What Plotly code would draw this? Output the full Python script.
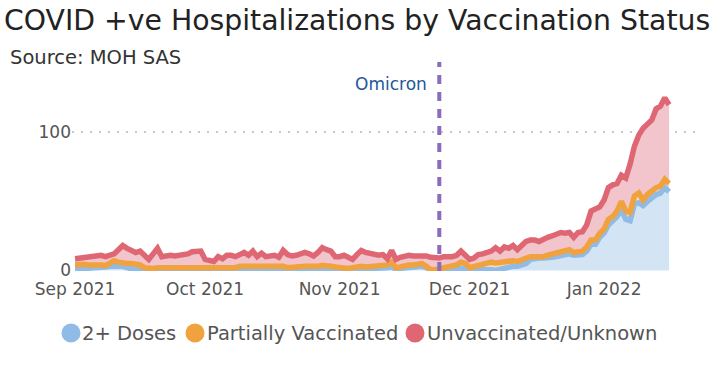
import pandas as pd
import plotly.graph_objects as go

# ---------------- data ----------------
dates = pd.date_range("2021-09-01", "2022-01-16", freq="D")

doses2 = [1, 1, 1.5, 1.5, 2, 2, 2.5, 2.5, 3, 3, 3, 3, 2, 1, 0.5,
          0.5, 0.5, 0.5, 0.5, 0.5, 0.5, 0.5, 0.5, 0.5, 0.5, 0.5, 0.5, 0.5, 0.5, 0.5, 0.5, 0.5, 0.5, 0.5, 0.5, 0.5, 0.5,
          1, 1, 1, 1, 1, 1, 1, 1, 1, 1,
          0.5, 0.5, 0.5, 0.5, 0.5,
          1, 1, 1, 1, 1, 1, 1,
          0.5, 0.5, 0.5, 0.5, 0.5, 0.5,
          1, 1, 1, 1,
          1.5, 1.5, 2, 2, 2.5, 1, 1.5, 2, 2.5, 2.5, 3, 3, 2,
          0.5, 0.5, 0.5, 1, 1, 1.5, 1.5, 2, 1.5,
          0.5, 0.5, 1, 1, 1, 0.5, 0, 1, 1.5, 2.5,
          3, 3, 3.5, 5, 8, 9, 9, 9, 9, 9.5,
          10, 11, 12, 12, 11, 11, 11.5, 14, 19, 19,
          24, 27, 33, 36, 39, 44, 37, 36, 48, 49,
          47, 50, 53, 55, 56, 60, 57]

partial = [3, 3.5, 3, 2.5, 2, 2.5, 1.5, 1, 2, 4, 3, 2, 3, 4, 4, 3.5, 1.5,
           1, 1, 1.5, 1.5, 1, 1, 1.5, 1.5, 1, 1, 1, 1.5, 1.5, 1, 1, 1, 1.5, 1.5, 1.5, 1.5,
           1, 2, 2, 2, 2, 2, 2, 2, 2, 2, 2.5, 2.5,
           1.5, 2, 2, 2, 2, 2, 1.5, 2, 2.5, 2.5,
           2.5, 2, 1.5, 1, 1, 1.5, 2, 2, 1.5, 2,
           1.5, 2, 1.5, 2, 3.5, 1, 1, 1.5, 1.5, 1.5, 1.5, 2, 1,
           0, 0, 0.5, 1, 1.5, 2, 2.5, 4, 3.5,
           1.5, 2.5, 3, 3, 4.5, 5.5, 5.5, 5, 4.5, 4.5,
           4, 3.5, 4.5, 4, 2, 1, 1, 1, 2, 2.5,
           2, 2, 3, 3, 2, 2.5, 2.5, 3, 3, 3,
           3, 3, 4, 3, 4, 6, 6, 6, 6, 7,
           4, 5, 5, 5, 5, 6, 6]

unvax = [4.5, 4.5, 5.5, 6.5, 6, 6, 7, 6.5, 6, 5, 9, 13, 11, 9, 8.5, 10, 9,
         6.5, 10.5, 14, 8, 9.5, 9.5, 8.5, 9, 9.5, 10.5, 12, 12, 12, 6.5, 5.5, 5, 8, 6.5, 9, 9,
         8, 8, 10, 8, 11, 7, 9.5, 7, 7.5, 8, 6.5, 11.5,
         9.5, 8, 8.5, 8.5, 10, 9, 8, 10, 13, 11.5,
         11, 7.5, 8, 9.5, 7.5, 6, 8.5, 11.5, 10.5, 9,
         8, 7.5, 8, 4.5, 8.5, 6, 7, 7, 7, 6.5, 6, 6, 7.5,
         9, 8.5, 8, 8, 7, 6.5, 7, 8, 6,
         6, 6, 7.5, 8, 7.5, 8, 11, 8, 11, 9,
         11, 8.5, 10, 12, 12, 12, 11, 13, 13, 13,
         14, 14.5, 12, 12.5, 11, 14, 14, 16, 21, 22,
         19, 21, 23, 23, 20, 19, 24, 35, 36, 42,
         52, 51, 51, 57, 58, 59, 57]

series_names = ["2+ Doses", "Partially Vaccinated", "Unvaccinated/Unknown"]
line_colors = ["#8fbbe6", "#f0a23e", "#df6773"]
fill_colors = ["#d3e4f4", "#f6d8b4", "#f2c4cb"]
omicron_date = "2021-11-24"
y_ticks = [0, 100]

# ---------------- layout helpers ----------------
W, H = 716, 388
L, R, T, B = 72, 16, 62, 117
pw, ph = W - L - R, H - T - B


def px(x):  # window pixel -> paper x
    return (x - L) / pw


def py(y):  # window pixel -> paper y
    return (H - B - y) / ph


FONT = "DejaVu Sans"

fig = go.Figure()
for vals, name, lc, fc in zip([doses2, partial, unvax], series_names, line_colors, fill_colors):
    fig.add_trace(go.Scatter(
        x=dates, y=vals, name=name, mode="lines", stackgroup="one",
        line=dict(color=lc, width=5.5), fillcolor=fc, showlegend=False,
    ))

fig.add_shape(type="line", xref="x", yref="paper", x0=omicron_date, x1=omicron_date,
              y0=0, y1=1, line=dict(color="#8c6bbd", width=4, dash="9px,8px"), layer="above")
fig.add_annotation(x=omicron_date, xref="x", y=py(84), yref="paper", text="Omicron",
                   showarrow=False, xanchor="right", yanchor="middle", xshift=-10,
                   font=dict(family=FONT, size=17, color="#24579a"))

fig.add_annotation(x=px(8), xref="paper", y=py(57), yref="paper", text="Source: MOH SAS",
                   showarrow=False, xanchor="left", yanchor="middle",
                   font=dict(family=FONT, size=19.5, color="#333"))

# legend drawn as circles + text
leg_circles = [71, 195, 415]
leg_text_x = [80, 205, 425]
for cx, tx, name, lc in zip(leg_circles, leg_text_x, series_names, line_colors):
    fig.add_shape(type="circle", xref="paper", yref="paper", xsizemode="pixel", ysizemode="pixel",
                  xanchor=px(cx), yanchor=py(333), x0=-9.5, x1=9.5, y0=-9.5, y1=9.5,
                  fillcolor=lc, line=dict(width=0))
    fig.add_annotation(x=px(tx), xref="paper", y=py(333), yref="paper", text=name,
                       showarrow=False, xanchor="left", yanchor="middle",
                       font=dict(family=FONT, size=19.5, color="#555"))

fig.update_layout(
    width=W, height=H,
    margin=dict(l=L, r=R, t=T, b=B, autoexpand=False),
    paper_bgcolor="white", plot_bgcolor="white",
    title=dict(text="COVID +ve Hospitalizations by Vaccination Status", x=4 / W, xanchor="left",
               xref="container", y=1 - 20 / H, yanchor="middle", yref="container",
               font=dict(family=FONT, size=28.3, color="#222")),
    showlegend=False,
    font=dict(family=FONT, color="#555"),
)
fig.update_xaxes(range=["2021-08-31 07:00", "2022-01-23 03:00"], showgrid=False, zeroline=False,
                 tickformat="%b %Y", dtick="M1", tick0="2021-09-01", ticks="", automargin=False,
                 ticklabelstandoff=6,
                 tickfont=dict(family=FONT, size=17, color="#555"))
fig.update_yaxes(range=[-0.4, 151], tickvals=y_ticks, showgrid=True, gridcolor="#c8c8c8",
                 griddash="2px,7px", gridwidth=2, zeroline=False, ticks="", automargin=False,
                 tickfont=dict(family=FONT, size=17, color="#555"))

fig.write_html("out.html", config={"displayModeBar": False},
               post_script="document.body.style.margin='0';")
